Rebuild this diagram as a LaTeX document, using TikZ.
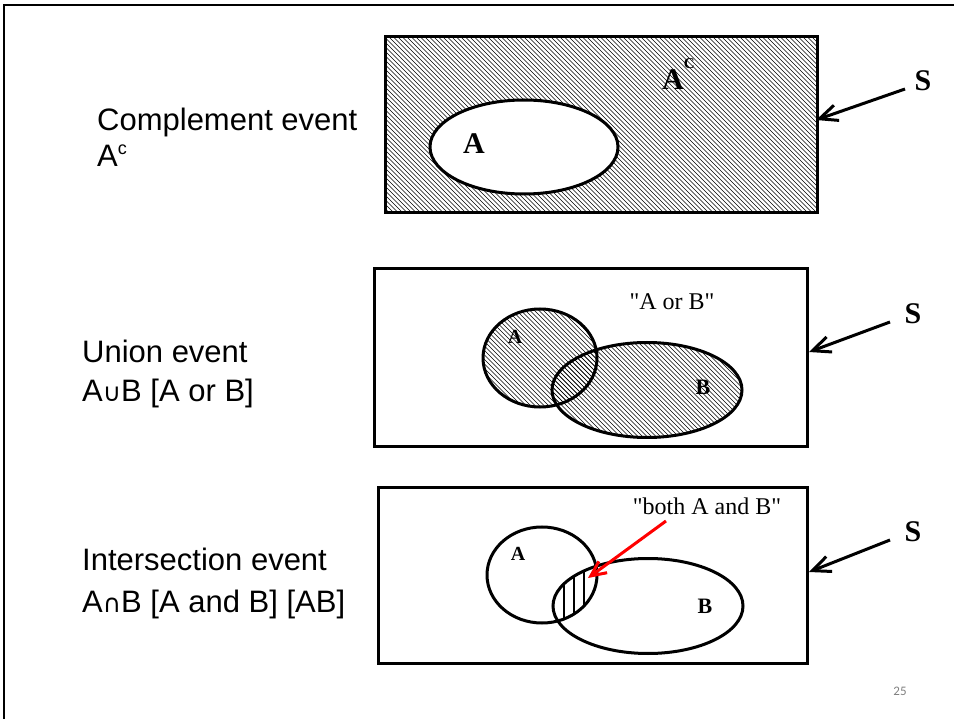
\documentclass[tikz,border=0pt]{standalone}
\usepackage{fontspec}
\setmainfont{Liberation Serif}
\newfontfamily\qfont{Liberation Serif}[Ligatures=TeXOff]
\newfontfamily\labelfont{Liberation Sans}
\newfontfamily\symfont{DejaVu Sans}
\newfontfamily\pagefont{Carlito}
\usetikzlibrary{arrows.meta,shapes.geometric}
\tikzset{
  frameline/.style={line width=2pt},
  boxst/.style={draw,rectangle,line width=3pt,inner sep=0pt},
  setline/.style={line width=3pt},
  hatchline/.style={line width=0.65pt},
  sarrow/.style={line width=3pt,-{Straight Barb[length=18pt,width=16pt,line width=3pt]}},
  redarrow/.style={line width=3pt,red,-{Straight Barb[length=15pt,width=14pt,line width=3pt]}},
  slabel/.style={font=\fontsize{30}{30}\selectfont\bfseries,anchor=base,inner sep=0pt},
  setlabel/.style={font=\fontsize{20}{20}\selectfont\bfseries,anchor=base,inner sep=0pt},
  setlabelB/.style={font=\fontsize{22}{22}\selectfont\bfseries,anchor=base,inner sep=0pt},
  quote/.style={font=\qfont\fontsize{24}{24}\selectfont,anchor=base,inner sep=0pt},
  sidetext/.style={font=\labelfont\fontsize{31}{31}\selectfont,anchor=base west,inner sep=0pt},
}
\begin{document}
\begin{tikzpicture}[x=1pt,y=-1pt]
\useasboundingbox (0,0) rectangle (954,719);
% outer frame (top and left)
\draw[frameline] (4,719) -- (4,5) -- (954,5);

% ---------- Complement ----------
\node[sidetext] (t1a) at (97,131) {Complement event};
\node[sidetext] (t1b) at (97,167) {A\raisebox{12pt}{\fontsize{18}{18}\selectfont c}};
\begin{scope}
  \clip (385,37) rectangle (817,213);
  \foreach \a in {200,204.5,...,820} {
    \draw[hatchline] (\a,37) -- ++(176,176);
  }
\end{scope}
\node[boxst,minimum width=432pt,minimum height=176pt] (box1) at (601,125) {};
\draw[setline,fill=white] (524,147) ellipse [x radius=94, y radius=47];
\node[slabel] (lA1) at (474,154) {A};
\node[slabel,anchor=base west] (lAc) at (662,90) {A\raisebox{21pt}{\fontsize{15}{15}\selectfont C}};
\node[slabel] (s1) at (923,91) {S};
\coordinate (s1start) at (905,89);
\coordinate (s1end) at (816,120);
\draw[sarrow] (s1start) -- (s1end);

% ---------- Union ----------
\node[sidetext] (t2a) at (82,363) {Union event};
\node[sidetext] (t2b) at (82,402) {A{\symfont\fontsize{25}{25}\selectfont ∪}B [A or B]};
\node[boxst,minimum width=433pt,minimum height=178pt] (box2) at (590.5,358) {};
\begin{scope}
  \clip (540,358) ellipse [x radius=57, y radius=49];
  \foreach \a in {380,384.5,...,760} {
    \draw[hatchline] (\a,300) -- ++(150,150);
  }
\end{scope}
\begin{scope}
  \clip (647,390) ellipse [x radius=95, y radius=47.5];
  \foreach \a in {380,384.5,...,760} {
    \draw[hatchline] (\a,300) -- ++(150,150);
  }
\end{scope}
\draw[setline] (540,358) ellipse [x radius=57, y radius=49];
\draw[setline] (647,390) ellipse [x radius=95, y radius=47.5];
\node[setlabel] (lA2) at (515,344) {A};
\node[setlabelB] (lB2) at (703,395) {B};
\node[quote] (q2) at (672,310) {"A or B"};
\node[slabel] (s2) at (913,324) {S};
\coordinate (s2start) at (890,322);
\coordinate (s2end) at (809,352);
\draw[sarrow] (s2start) -- (s2end);

% ---------- Intersection ----------
\node[sidetext] (t3a) at (82,570) {Intersection event};
\node[sidetext] (t3b) at (82,612) {A{\symfont\fontsize{25}{25}\selectfont ∩}B [A and B] [AB]};
\node[boxst,minimum width=429pt,minimum height=176pt] (box3) at (592.5,575) {};
\begin{scope}
  \clip (542,575) ellipse [x radius=55, y radius=48];
  \clip (648,606) ellipse [x radius=95, y radius=47.5];
  \draw[line width=2.8pt] (564,520) -- (564,660) (574,520) -- (574,660) (584,520) -- (584,660);
\end{scope}
\draw[setline] (542,575) ellipse [x radius=55, y radius=48];
\draw[setline] (648,606) ellipse [x radius=95, y radius=47.5];
\node[setlabel] (lA3) at (518,560) {A};
\node[setlabelB] (lB3) at (705,613) {B};
\node[quote] (q3) at (707,514) {"both A and B"};
\coordinate (r3start) at (666,521);
\coordinate (r3end) at (588,578);
\draw[redarrow] (r3start) -- (r3end);
\node[slabel] (s3) at (913,541) {S};
\coordinate (s3start) at (890,540);
\coordinate (s3end) at (809,572);
\draw[sarrow] (s3start) -- (s3end);

% page number
\node[font=\pagefont\fontsize{13}{13}\selectfont,text=black!50,inner sep=0pt] (pg) at (900,691) {25};
\end{tikzpicture}
\end{document}
